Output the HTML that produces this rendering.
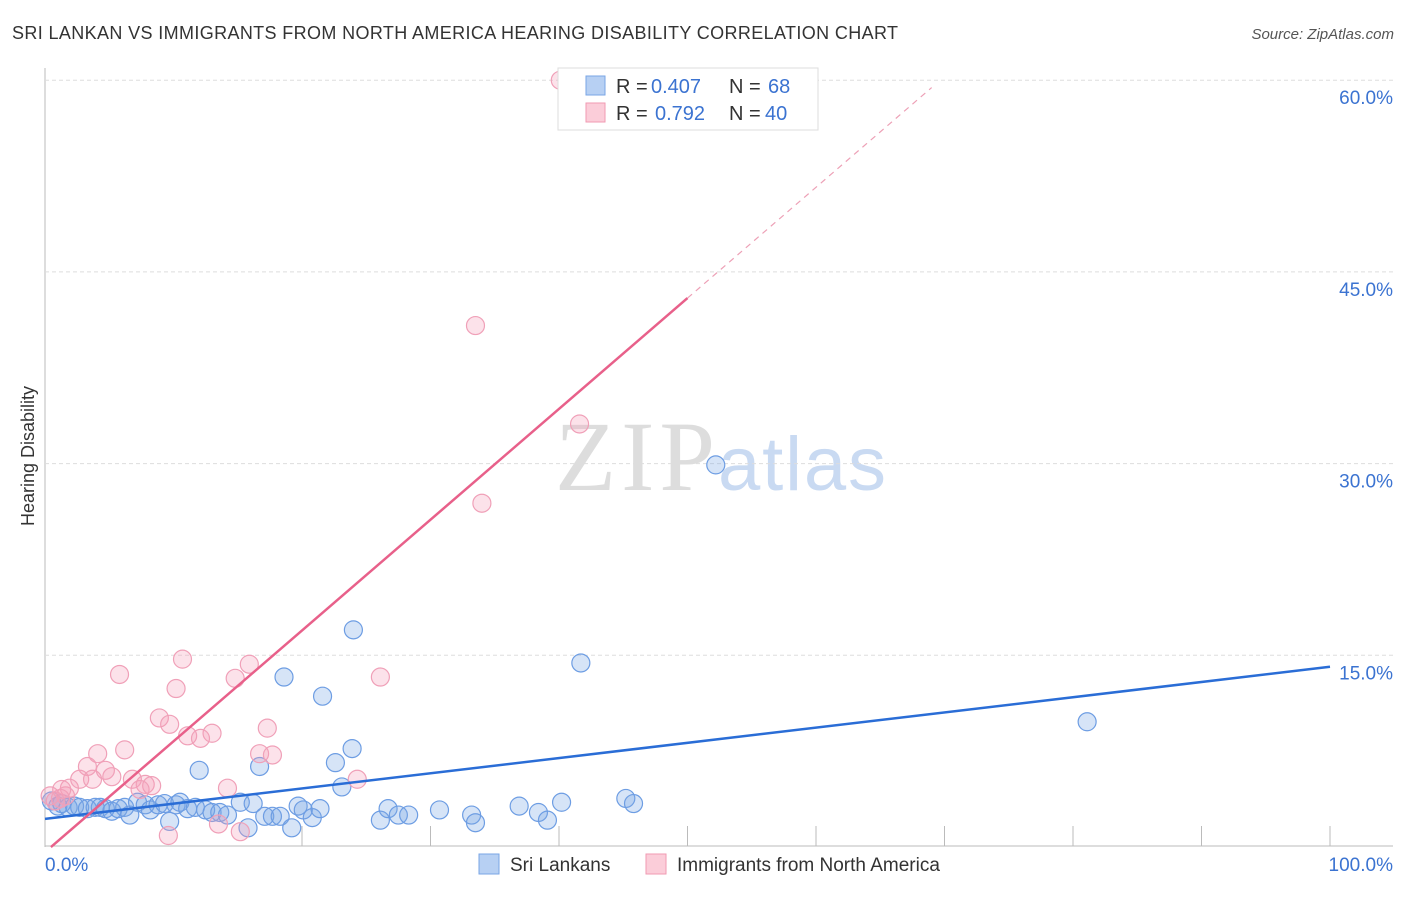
<!DOCTYPE html>
<html><head><meta charset="utf-8"><style>
body{margin:0;background:#fff;font-family:"Liberation Sans",sans-serif;}
</style></head><body>
<svg id="c" width="1406" height="892" xmlns="http://www.w3.org/2000/svg">
<text x="12" y="39" font-size="18" fill="#333" textLength="886">SRI LANKAN VS IMMIGRANTS FROM NORTH AMERICA HEARING DISABILITY CORRELATION CHART</text>
<text x="1394" y="39" font-size="15" fill="#555" font-style="italic" text-anchor="end">Source: ZipAtlas.com</text>
<text x="34" y="456" font-size="18" fill="#333" transform="rotate(-90 34 456)" text-anchor="middle">Hearing Disability</text>
<text x="555" y="490" font-size="100" fill="#ddd" font-family="Liberation Serif" textLength="160">ZIP</text>
<text x="718" y="490" font-size="76" fill="#c9daf2" textLength="168">atlas</text>
<g id="grid"></g><g id="marks"></g>
<g>
<rect x="558" y="68" width="260" height="62" fill="#fff" stroke="#ddd"/>
<rect x="586" y="76" width="19" height="19" fill="#b7d0f3" stroke="#7aa6e6"/>
<rect x="586" y="103" width="19" height="19" fill="#fbcdd9" stroke="#f09ab2"/>
<text x="616" y="93" font-size="20" fill="#333">R =</text>
<text x="651" y="93" font-size="20" fill="#3b73d1">0.407</text>
<text x="729" y="93" font-size="20" fill="#333">N =</text>
<text x="768" y="93" font-size="20" fill="#3b73d1">68</text>
<text x="616" y="120" font-size="20" fill="#333">R =</text>
<text x="655" y="120" font-size="20" fill="#3b73d1">0.792</text>
<text x="729" y="120" font-size="20" fill="#333">N =</text>
<text x="765" y="120" font-size="20" fill="#3b73d1">40</text>
</g>
<g>
<rect x="479" y="854" width="20" height="20" fill="#b7d0f3" stroke="#7aa6e6"/>
<text x="510" y="871" font-size="19" fill="#333">Sri Lankans</text>
<rect x="646" y="854" width="20" height="20" fill="#fbcdd9" stroke="#f09ab2"/>
<text x="677" y="871" font-size="19" fill="#333">Immigrants from North America</text>
</g>
</svg>
<script>
const yTicks=[15,30,45,60];
const blueX=[0.5,1,1.3,1.8,2.3,2.7,3.3,3.9,4.3,4.7,5.2,5.7,6.2,6.6,7.2,7.8,8.2,8.8,9.3,9.7,10.2,10.5,11.1,11.7,12,12.5,13,13.6,14.2,15.2,15.8,16.2,16.7,17.1,17.7,18.3,18.6,19.2,19.7,20.1,20.8,21.4,21.6,22.6,23.1,23.9,24,26.1,26.7,27.5,28.3,30.7,33.2,33.5,36.9,38.4,39.1,40.2,41.7,45.2,45.8,52.2,81.1];
const blueY=[3.6,3.2,3.4,3.1,3.2,3.1,3,3.1,3.1,3,2.8,3,3.1,2.5,3.5,3.3,2.9,3.3,3.4,2,3.3,3.5,3,3.1,6,2.9,2.7,2.7,2.5,3.5,1.5,3.4,6.3,2.4,2.4,2.4,13.3,1.5,3.2,2.9,2.3,3,11.8,6.6,4.7,7.7,16.99,2.1,3,2.5,2.5,2.9,2.5,1.9,3.2,2.7,2.1,3.5,14.4,3.8,3.4,29.9,9.8];
const pinkX=[40.1,33.5,41.6,34,5.8,10.7,15.9,10.2,14.8,26.1,8.9,9.7,17.3,13,11.1,12.1,4.1,6.2,16.7,17.7,5.2,4.7,3.3,2.7,3.7,6.8,7.8,8.3,7.4,14.2,24.3,1.9,1.6,1.2,0.8,13.5,9.6,15.2,0.4,1.3];
const pinkY=[60,40.8,33.1,26.9,13.5,14.7,14.3,12.4,13.2,13.3,10.1,9.6,9.3,8.9,8.7,8.5,7.3,7.6,7.3,7.2,5.5,6,6.3,5.3,5.3,5.3,4.9,4.8,4.5,4.6,5.3,4.6,4,3.8,3.6,1.8,0.9,1.2,4,4.5];
const blueLine=[2.2,14.1];
const pinkLine=[-0.4,0.867];
const NS="http://www.w3.org/2000/svg";
const X=v=>45+v*12.85, Y=v=>847-v*12.78;
const grid=document.getElementById('grid'), marks=document.getElementById('marks');
function mk(tag,at,parent){const e=document.createElementNS(NS,tag);for(const k in at)e.setAttribute(k,at[k]);parent.appendChild(e);return e;}
let ax=mk('line',{x1:45,y1:68,x2:45,y2:847,stroke:'#bbb'},grid);


let bx=mk('line',{x1:45,y1:846,x2:1393,y2:846,stroke:'#bbb'},grid);


yTicks.forEach(t=>{
 let g=mk('line',{x1:45,x2:1393,y1:Y(t),y2:Y(t),stroke:'#ddd','stroke-dasharray':'4,3'},grid);
 
 
 let tx=mk('text',{x:1393,y:Y(t)+24,'font-size':19,fill:'#3b73d1','text-anchor':'end'},grid);tx.textContent=t.toFixed(1)+'%';
 
 
});
for(let i=2;i<=10;i++){let tk=mk('line',{x1:X(i*10),x2:X(i*10),y1:826,y2:846,stroke:'#bbb'},grid);
 
 }
let l0=mk('text',{x:45,y:871,'font-size':19,fill:'#3b73d1'},grid);l0.textContent='0.0%';


let l1=mk('text',{x:1393,y:871,'font-size':19,fill:'#3b73d1','text-anchor':'end'},grid);l1.textContent='100.0%';


blueX.forEach((v,i)=>{let c=mk('circle',{cx:X(v),cy:Y(blueY[i]),r:9,fill:'rgba(120,165,230,0.3)',stroke:'#6d9de3','stroke-width':1.2},marks);
 
 });
pinkX.forEach((v,i)=>{let c=mk('circle',{cx:X(v),cy:Y(pinkY[i]),r:9,fill:'rgba(245,160,185,0.3)',stroke:'#f0a0b8','stroke-width':1.2},marks);
 
 });
let bl=mk('line',{x1:X(0),y1:Y(blueLine[0]),x2:X(100),y2:Y(blueLine[1]),stroke:'#2a6dd6','stroke-width':2.5},marks);


const px=v=>pinkLine[0]+pinkLine[1]*v;
let x0=0.46,x1=50,x2=69;
let pl=mk('line',{x1:X(x0),y1:Y(px(x0)),x2:X(x1),y2:Y(px(x1)),stroke:'#e8608a','stroke-width':2.5},marks);


let pd=mk('line',{x1:X(x1),y1:Y(px(x1)),x2:X(x2),y2:Y(px(x2)),stroke:'#eda0b6','stroke-width':1.2,'stroke-dasharray':'6,5'},marks);


</script>
</body></html>
